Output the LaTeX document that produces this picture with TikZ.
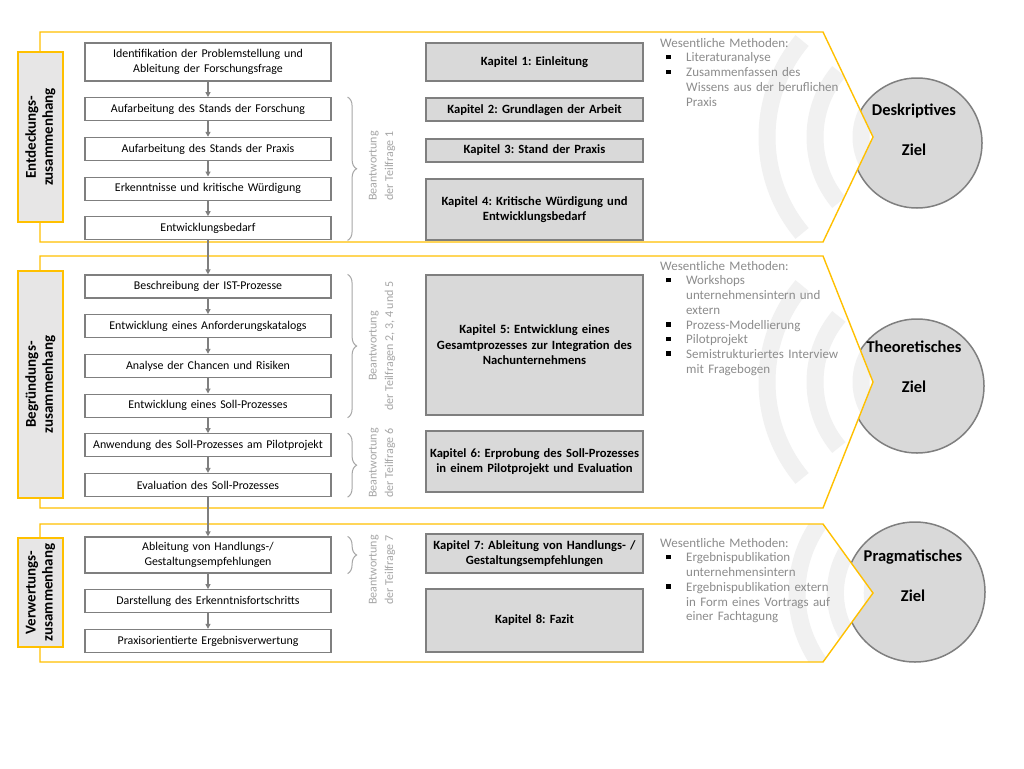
\documentclass[tikz,border=0pt]{standalone}
\usepackage{fontspec}
\setmainfont{Carlito}
\usepackage{tikz}
\usetikzlibrary{arrows.meta, positioning, decorations.pathreplacing}

\definecolor{gelb}{HTML}{FFC000}
\definecolor{rahmen}{HTML}{7F7F7F}
\definecolor{kapitelgrau}{HTML}{D9D9D9}
\definecolor{reitergrau}{HTML}{E7E6E6}
\definecolor{hinweis}{HTML}{A6A6A6}
\definecolor{methode}{HTML}{8C8C8C}
\definecolor{bogen}{HTML}{F1F1F1}

\AtBeginDocument{\frenchspacing\hyphenpenalty=10000\exhyphenpenalty=10000}

% outline of one section (top y, bottom y)
\newcommand{\zielform}[2]{(40,#1) -- (823,#1) -- (873,{(#1+#2)/2}) -- (823,#2) -- (40,#2) -- cycle}
\newcommand{\punkt}{\par\hangindent=26pt\hangafter=1\makebox[26pt][l]{\hspace{6pt}\textcolor{black}{\rule[2.5pt]{4.5pt}{4.5pt}}}}

\begin{document}
\begin{tikzpicture}[
        x=1pt, y=-1pt,
        prozess/.style={
          rectangle,
          draw=rahmen,
          line width=1.2pt,
          fill=white,
          minimum width=246pt,
          text width=244pt,
          align=center,
          inner sep=1pt,
          font=\fontsize{11.9}{14.5}\selectfont
        },
        kapitel/.style={
          rectangle,
          draw=rahmen,
          line width=1.8pt,
          fill=kapitelgrau,
          minimum width=217pt,
          text width=212pt,
          align=center,
          inner sep=1pt,
          font=\fontsize{12.6}{15.5}\selectfont\bfseries
        },
        reiter/.style={
          rectangle,
          draw=gelb,
          line width=2.5pt,
          fill=reitergrau,
          rotate=90,
          minimum height=45pt,
          align=center,
          inner sep=0pt,
          font=\fontsize{15}{17}\selectfont\bfseries
        },
        ziel/.style={
          circle,
          draw=rahmen,
          line width=1.5pt,
          fill=kapitelgrau,
          minimum size=#1
        },
        zieltext/.style={align=center, font=\fontsize{16.5}{40}\selectfont\bfseries},
        methoden/.style={
          anchor=north west,
          text width=200pt,
          align=left,
          inner sep=0pt,
          text=methode,
          font=\fontsize{13}{14.7}\selectfont
        },
        antwort/.style={
          rotate=90,
          align=center,
          text=hinweis,
          font=\fontsize{12}{16.5}\selectfont
        },
        klammer/.style={decorate, decoration={brace, amplitude=9pt}, draw=hinweis, line width=1pt},
        fluss/.style={-{Triangle[length=5pt, width=5pt]}, draw=rahmen, line width=1.2pt},
        ring/.style={draw=bogen, line width=17pt},
        abschnitt/.style={draw=gelb, line width=1.4pt},
        node distance=15.5pt
    ]
    \useasboundingbox (0,0) rectangle (1024,768);

    % Goal circles
    \node[ziel=130pt] (zd) at (917,143) {};
    \node[ziel=134pt] (zt) at (917,386) {};
    \node[ziel=140pt] (zp) at (915,592) {};

    % Sections with background arcs
    \foreach \o/\u/\r in {32/242/1, 256/508/1, 524/662/0.8} {
      \fill[white] \zielform{\o}{\u};
      \begin{scope}
        \clip \zielform{\o}{\u};
        \foreach \rad in {150,102,56}
          \draw[ring] (917,{(\o+\u)/2}) ++(140:{\rad*\r}) arc[start angle=140, end angle=220, radius={\rad*\r}];
      \end{scope}
      \draw[abschnitt] \zielform{\o}{\u};
    }

    \node[zieltext] (zdt) at (914,130) {Deskriptives\\Ziel};
    \node[zieltext] (ztt) at (914,367) {Theoretisches\\Ziel};
    \node[zieltext] (zpt) at (913,576) {Pragmatisches\\Ziel};

    % Process steps
    \node[prozess, minimum height=38pt] (e1) at (208,62) {Identifikation der Problemstellung und\\Ableitung der Forschungsfrage};
    \node[prozess, minimum height=23pt, below=of e1] (e2) {Aufarbeitung des Stands der Forschung};
    \node[prozess, minimum height=23pt, below=of e2] (e3) {Aufarbeitung des Stands der Praxis};
    \node[prozess, minimum height=23pt, below=of e3] (e4) {Erkenntnisse und kritische Würdigung};
    \node[prozess, minimum height=23pt, below=of e4] (e5) {Entwicklungsbedarf};

    \node[prozess, minimum height=23pt] (b1) at (208,286.5) {Beschreibung der IST-Prozesse};
    \node[prozess, minimum height=23pt, below=of b1] (b2) {Entwicklung eines Anforderungskatalogs};
    \node[prozess, minimum height=23pt, below=of b2] (b3) {Analyse der Chancen und Risiken};
    \node[prozess, minimum height=23pt, below=of b3] (b4) {Entwicklung eines Soll-Prozesses};
    \node[prozess, minimum height=23pt, below=of b4] (b5) {Anwendung des Soll-Prozesses am Pilotprojekt};
    \node[prozess, minimum height=23pt, below=of b5] (b6) {Evaluation des Soll-Prozesses};

    \node[prozess, minimum height=36pt] (v1) at (208,555) {Ableitung von Handlungs-/\\Gestaltungsempfehlungen};
    \node[prozess, minimum height=23pt, below=of v1] (v2) {Darstellung des Erkenntnisfortschritts};
    \node[prozess, minimum height=23pt, below=of v2] (v3) {Praxisorientierte Ergebnisverwertung};

    % Connect the steps
    \foreach \a/\b in {e1/e2, e2/e3, e3/e4, e4/e5, e5/b1, b1/b2, b2/b3, b3/b4, b4/b5, b5/b6, b6/v1, v1/v2, v2/v3}
      \draw[fluss] (\a) -- (\b);

    % Chapters
    \node[kapitel, minimum height=38pt] (k1) at (534.5,62) {Kapitel 1: Einleitung};
    \node[kapitel, minimum height=23pt, below=of k1] (k2) {Kapitel 2: Grundlagen der Arbeit};
    \node[kapitel, minimum height=23pt, below=of k2] (k3) {Kapitel 3: Stand der Praxis};
    \node[kapitel, minimum height=61pt, below=of k3] (k4) {Kapitel 4: Kritische Würdigung und\\Entwicklungsbedarf};
    \node[kapitel, minimum height=140pt] (k5) at (534.5,345) {Kapitel 5: Entwicklung eines\\Gesamtprozesses zur Integration des\\Nachunternehmens};
    \node[kapitel, minimum height=61pt] (k6) at (534.5,461.5) {Kapitel 6: Erprobung des Soll-Prozesses\\in einem Pilotprojekt und Evaluation};
    \node[kapitel, minimum height=39pt] (k7) at (534.5,553.5) {Kapitel 7: Ableitung von Handlungs- /\\Gestaltungsempfehlungen};
    \node[kapitel, minimum height=63pt] (k8) at (534.5,620.5) {Kapitel 8: Fazit};

    % Braces and research questions
    \draw[klammer] ([xshift=16pt]e2.north east) -- ([xshift=16pt]e5.south east);
    \draw[klammer] ([xshift=16pt]b1.north east) -- ([xshift=16pt]b4.south east);
    \draw[klammer] ([xshift=16pt]b5.north east) -- ([xshift=16pt]b6.south east);
    \draw[klammer] ([xshift=16pt]v1.north east) -- ([xshift=16pt]v1.south east);
    \node[antwort] (a1) at (382,166) {Beantwortung\\der Teilfrage 1};
    \node[antwort] (a2) at (382,346) {Beantwortung\\der Teilfragen 2, 3, 4 und 5};
    \node[antwort] (a3) at (382,463) {Beantwortung\\der Teilfrage 6};
    \node[antwort] (a4) at (382,570) {Beantwortung\\der Teilfrage 7};

    % Tabs
    \node[reiter, minimum width=170pt] (te) at (40.5,137) {Entdeckungs-\\zusammenhang};
    \node[reiter, minimum width=227pt] (tb) at (40.5,384.5) {Begründungs-\\zusammenhang};
    \node[reiter, minimum width=109pt] (tv) at (40.5,592.5) {Verwertungs-\\zusammenhang};

    % Methods
    \node[methoden] (md) at (660,38) {Wesentliche Methoden:\punkt Literaturanalyse\punkt Zusammenfassen des\newline Wissens aus der beruflichen\newline Praxis\par};
    \node[methoden] (mt) at (660,261) {Wesentliche Methoden:\punkt Workshops\newline unternehmensintern und\newline extern\punkt Prozess-Modellierung\punkt Pilotprojekt\punkt Semistrukturiertes Interview\newline mit Fragebogen\par};
    \node[methoden] (mp) at (660,538) {Wesentliche Methoden:\punkt Ergebnispublikation\newline unternehmensintern\punkt Ergebnispublikation extern\newline in Form eines Vortrags auf\newline einer Fachtagung\par};

\end{tikzpicture}
\end{document}
